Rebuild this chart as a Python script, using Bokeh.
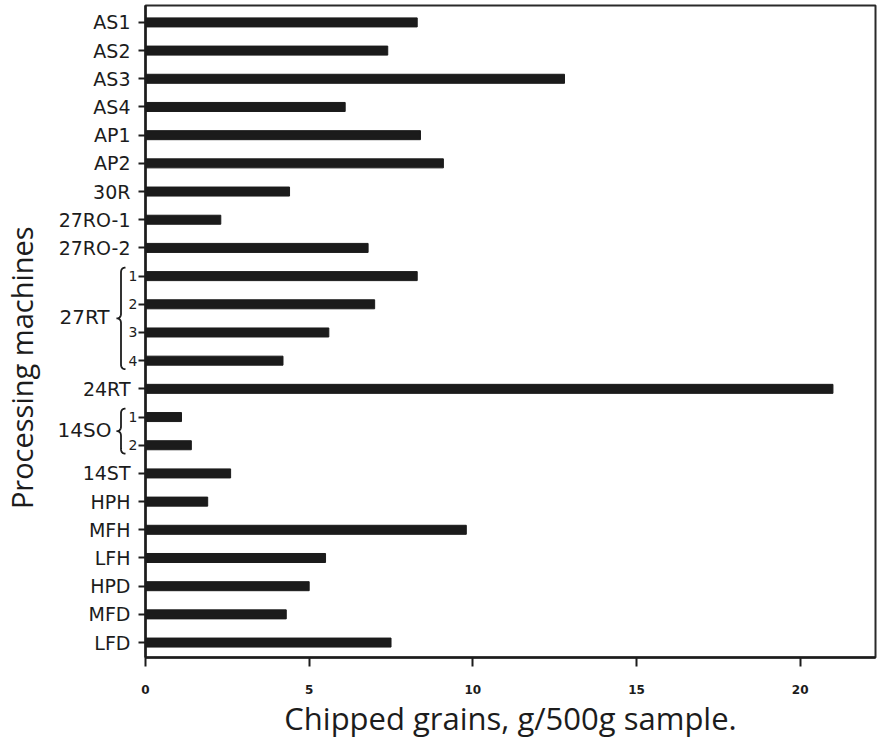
import numpy as np
from bokeh.plotting import figure
from bokeh.layouts import row
from bokeh.models import Range1d, FixedTicker, ColumnDataSource
from bokeh.embed import file_html
from bokeh.resources import INLINE

# Chipped grains per processing machine (g / 500 g sample), top to bottom
machines = ["AS1", "AS2", "AS3", "AS4", "AP1", "AP2", "30R", "27RO-1", "27RO-2",
            "27RT-1", "27RT-2", "27RT-3", "27RT-4", "24RT", "14SO-1", "14SO-2",
            "14ST", "HPH", "MFH", "LFH", "HPD", "MFD", "LFD"]
tick_labels = ["AS1", "AS2", "AS3", "AS4", "AP1", "AP2", "30R", "27RO-1", "27RO-2",
               "1", "2", "3", "4", "24RT", "1", "2",
               "14ST", "HPH", "MFH", "LFH", "HPD", "MFD", "LFD"]
chipped = [8.3, 7.4, 12.8, 6.1, 8.4, 9.1, 4.4, 2.3, 6.8,
           8.3, 7.0, 5.6, 4.2, 21.0, 1.1, 1.4,
           2.6, 1.9, 9.8, 5.5, 5.0, 4.3, 7.5]
x_ticks = [0, 5, 10, 15, 20]
# machine groups shown with a brace: (name, first index, last index)
groups = [("27RT", 9, 12), ("14SO", 14, 15)]

positions = list(range(len(machines)))

H = 742
LABEL_W = 138          # width of the label strip on the left
MAIN_W = 883 - LABEL_W
TOP, BOTTOM = 5, 85
X_MAX = 22.3
Y_LO, Y_HI = -0.6, len(machines) - 0.47

ink = "#1c1c1c"
font = "DejaVu Sans"

# ---------------- main bar chart ----------------
p = figure(width=MAIN_W, height=H, output_backend="svg", toolbar_location=None,
           x_range=Range1d(0, X_MAX), y_range=Range1d(Y_HI, Y_LO),
           min_border_left=7, min_border_right=8,
           min_border_top=TOP, min_border_bottom=BOTTOM)

p.background_fill_color = "white"
p.border_fill_color = "white"
p.outline_line_color = "#2a2a2a"
p.outline_line_width = 2
p.xgrid.visible = False
p.ygrid.visible = False

p.hbar(y=positions, left=0, right=chipped, height=0.32,
       fill_color="#1b1b1b", line_color="#1b1b1b")

xa = p.xaxis[0]
xa.ticker = FixedTicker(ticks=x_ticks)
xa.minor_tick_line_color = None
xa.axis_line_width = 2.5
xa.axis_line_color = ink
xa.major_tick_line_width = 2
xa.major_tick_line_color = ink
xa.major_tick_in = 0
xa.major_tick_out = 9
xa.major_label_standoff = 18
xa.major_label_text_font = font
xa.major_label_text_font_size = "12px"
xa.major_label_text_font_style = "bold"
xa.major_label_text_color = ink
xa.axis_label = "Chipped grains, g/500g sample."
xa.axis_label_text_font = "Open Sans"
xa.axis_label_text_font_size = "31px"
xa.axis_label_text_font_style = "normal"
xa.axis_label_text_color = ink
xa.axis_label_standoff = 0

# y axis: tick marks only, names are set in the strip on the left
ya = p.yaxis[0]
ya.ticker = FixedTicker(ticks=positions)
ya.minor_tick_line_color = None
ya.axis_line_width = 2.5
ya.axis_line_color = ink
ya.major_tick_line_width = 2
ya.major_tick_line_color = ink
ya.major_tick_in = 0
ya.major_tick_out = 7
ya.major_label_standoff = 0
ya.major_label_text_font_size = "0px"
ya.major_label_text_color = None

# ---------------- label strip (shares the y scale) ----------------
lab = figure(width=LABEL_W, height=H, output_backend="svg", toolbar_location=None,
             x_range=Range1d(0, LABEL_W), y_range=p.y_range,
             x_axis_type=None, y_axis_type=None,
             min_border_left=0, min_border_right=0,
             min_border_top=TOP, min_border_bottom=BOTTOM)
lab.outline_line_color = None
lab.background_fill_color = "white"
lab.border_fill_color = "white"

in_group = set()
for _, i0, i1 in groups:
    in_group.update(range(i0, i1 + 1))
sizes = ["14px" if i in in_group else "19px" for i in positions]
right_edge = [LABEL_W - 1 if i in in_group else LABEL_W - 8 for i in positions]

names_src = ColumnDataSource(dict(x=right_edge, y=positions,
                                  text=tick_labels, size=sizes))
lab.text(x="x", y="y", text="text", source=names_src, text_align="right",
         text_baseline="middle", text_font_size="size", text_color=ink,
         text_font={"value": font})


def brace(y_top, y_bot, x_end=125, x_spine=120.5, x_tip=116, d=0.17):
    y_mid = (y_top + y_bot) / 2
    t = np.linspace(0, 1, 10)

    def quad(a, c, b):
        return [((1 - s) ** 2 * a[0] + 2 * (1 - s) * s * c[0] + s ** 2 * b[0],
                 (1 - s) ** 2 * a[1] + 2 * (1 - s) * s * c[1] + s ** 2 * b[1]) for s in t]

    pts = []
    pts += quad((x_end, y_top), (x_spine, y_top), (x_spine, y_top + d))
    pts += quad((x_spine, y_mid - d), (x_spine, y_mid), (x_tip, y_mid))
    pts += quad((x_tip, y_mid), (x_spine, y_mid), (x_spine, y_mid + d))
    pts += quad((x_spine, y_bot - d), (x_spine, y_bot), (x_end, y_bot))
    return [q[0] for q in pts], [q[1] for q in pts]


for name, i0, i1 in groups:
    bx, by = brace(i0 - 0.3, i1 + 0.3)
    lab.line(bx, by, line_color=ink, line_width=1.8)
    lab.text(x=[84], y=[(i0 + i1) / 2 - 0.05], text=[name], text_align="center",
             text_baseline="middle", text_font_size="20px", text_color=ink,
             text_font={"value": font})

# vertical axis title
lab.text(x=[21], y=[12.25], text=["Processing machines"], angle=np.pi / 2,
         text_align="center", text_baseline="middle", text_font_size="29px",
         text_color=ink, text_font={"value": "Open Sans"})

layout = row(lab, p)
open("out.html", "w").write(file_html(layout, INLINE))
